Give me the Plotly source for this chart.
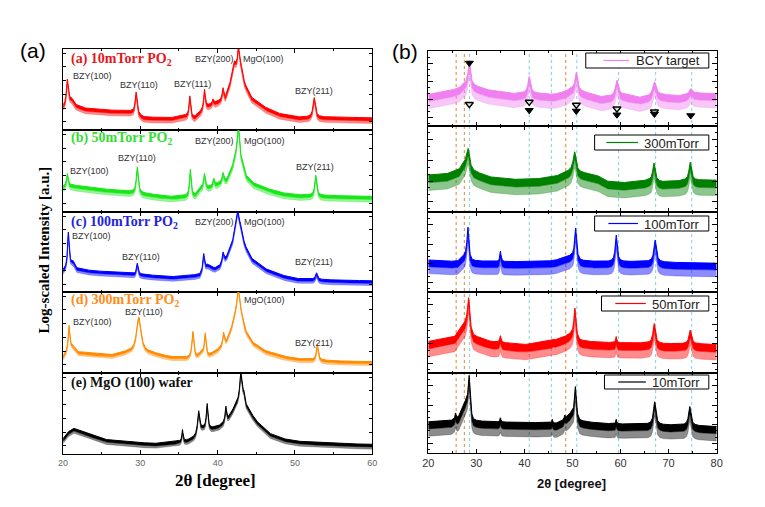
import numpy as np
import plotly.graph_objects as go

W, H = 765, 507
def PX(px): return px / W
def PY(py): return 1 - py / H

# ---------------- Panel (a) data (log-scaled intensity, fraction of each strip) ----------------
a_names = ["(a) 10mTorr PO<sub>2</sub>", "(b) 50mTorr PO<sub>2</sub>", "(c) 100mTorr PO<sub>2</sub>",
           "(d) 300mTorr PO<sub>2</sub>", "(e) MgO (100) wafer"]
a_colors = ["#ff0000", "#19e619", "#0000ff", "#ff8a00", "#000000"]
a_label_colors = ["#e8141c", "#33dd33", "#2222dd", "#ff8c1a", "#111111"]

a1_base_x = [20.0, 20.3, 21.1, 21.7, 22.8, 25.4, 28.8, 30.4, 33.8, 35.8, 37.0, 37.7, 38.7, 39.9, 40.4, 41.0, 41.6, 41.9, 42.3, 43.0, 43.5, 44.3, 46.0, 47.7, 50.2, 55.0, 60.0]
a1_base_y = [0.29, 0.30, 0.38, 0.31, 0.27, 0.25, 0.23, 0.16, 0.15, 0.18, 0.16, 0.22, 0.30, 0.35, 0.37, 0.40, 0.58, 0.72, 0.80, 0.80, 0.58, 0.41, 0.29, 0.21, 0.16, 0.16, 0.15]
a1_pk_x = [20.55, 29.45, 36.4, 38.3, 39.4, 40.7, 42.15, 42.7, 52.5]
a1_pk_top = [0.63, 0.47, 0.42, 0.50, 0.38, 0.52, 0.84, 1.05, 0.40]
a1_pk_w = [0.15, 0.15, 0.12, 0.12, 0.10, 0.12, 0.10, 0.12, 0.18]

a2_base_x = [20.0, 20.3, 21.1, 22.8, 25.4, 28.8, 30.4, 33.8, 36.0, 37.1, 37.7, 38.9, 40.0, 41.2, 41.9, 42.4, 43.1, 43.6, 44.5, 46.0, 48.0, 50.0, 55.0, 60.0]
a2_base_y = [0.31, 0.32, 0.33, 0.31, 0.28, 0.25, 0.23, 0.19, 0.20, 0.21, 0.30, 0.31, 0.35, 0.40, 0.55, 0.70, 0.62, 0.45, 0.36, 0.30, 0.24, 0.21, 0.20, 0.19]
a2_pk_x = [20.55, 29.6, 36.47, 38.3, 39.5, 40.7, 42.7, 52.7]
a2_pk_top = [0.47, 0.55, 0.52, 0.47, 0.41, 0.48, 1.05, 0.45]
a2_pk_w = [0.12, 0.15, 0.12, 0.12, 0.10, 0.12, 0.15, 0.15]

a3_base_x = [20.0, 20.4, 21.3, 21.7, 23.5, 27.4, 28.9, 30.4, 33.8, 37.7, 38.7, 39.6, 40.3, 41.2, 41.9, 42.3, 42.9, 43.5, 44.3, 46.0, 48.0, 50.0, 55.0, 60.0]
a3_base_y = [0.27, 0.30, 0.38, 0.30, 0.27, 0.24, 0.23, 0.22, 0.19, 0.22, 0.34, 0.30, 0.33, 0.45, 0.62, 0.82, 0.85, 0.60, 0.43, 0.30, 0.22, 0.17, 0.15, 0.14]
a3_pk_x = [20.68, 29.6, 38.2, 40.7, 42.6, 52.8]
a3_pk_top = [0.75, 0.36, 0.48, 0.50, 1.02, 0.24]
a3_pk_w = [0.12, 0.12, 0.12, 0.12, 0.13, 0.15]

a4_base_x = [20.0, 20.4, 21.1, 21.95, 24.0, 26.1, 28.3, 31.5, 33.85, 36.0, 37.3, 37.9, 38.8, 39.9, 40.4, 41.2, 41.8, 42.3, 43.1, 43.6, 44.5, 46.0, 48.0, 50.0, 55.0, 60.0]
a4_base_y = [0.20, 0.25, 0.33, 0.26, 0.24, 0.22, 0.26, 0.25, 0.20, 0.19, 0.20, 0.26, 0.22, 0.28, 0.32, 0.40, 0.55, 0.70, 0.70, 0.52, 0.38, 0.28, 0.22, 0.18, 0.15, 0.14]
a4_pk_x = [20.76, 29.8, 36.8, 38.4, 40.77, 42.67, 52.9]
a4_pk_top = [0.59, 0.69, 0.51, 0.49, 0.50, 1.05, 0.35]
a4_pk_w = [0.12, 0.35, 0.15, 0.12, 0.12, 0.20, 0.15]

a5_base_x = [20.0, 20.5, 21.3, 22.8, 25.4, 28.75, 31.7, 34.4, 35.0, 36.0, 36.8, 37.1, 38.0, 39.2, 40.2, 40.7, 41.4, 42.0, 42.4, 43.4, 43.6, 44.9, 46.6, 48.5, 50.0, 55.0, 60.0]
a5_base_y = [0.19, 0.26, 0.32, 0.27, 0.18, 0.15, 0.13, 0.15, 0.16, 0.17, 0.20, 0.22, 0.32, 0.32, 0.35, 0.38, 0.45, 0.55, 0.62, 0.75, 0.62, 0.42, 0.26, 0.19, 0.16, 0.13, 0.12]
a5_pk_x = [35.45, 37.54, 38.64, 41.06, 43.0]
a5_pk_top = [0.30, 0.53, 0.62, 0.59, 1.02]
a5_pk_w = [0.08, 0.15, 0.12, 0.10, 0.15]

a_noise = [0.07, 0.07, 0.06, 0.05, 0.06]

# peak labels (text, x pixel, y pixel)
a_peak_labels = [
    [("BZY(100)", 88, 76), ("BZY(110)", 135, 85), ("BZY(111)", 189, 84), ("BZY(200)", 212, 59), ("MgO(100)", 262, 59), ("BZY(211)", 313, 91)],
    [("BZY(100)", 85, 171), ("BZY(110)", 133, 158), ("BZY(200)", 212, 141), ("MgO(100)", 263, 141), ("BZY(211)", 314, 167)],
    [("BZY(100)", 87, 236), ("BZY(110)", 137, 257), ("BZY(200)", 212, 222), ("MgO(100)", 263, 222), ("BZY(211)", 313, 262)],
    [("BZY(100)", 88, 322), ("BZY(110)", 140, 312), ("MgO(100)", 263, 300), ("BZY(211)", 313, 343)],
    [],
]

# ---------------- Panel (b) data ----------------
b_names = ["BCY target", "300mTorr", "100mTorr", "50mTorr", "10mTorr"]
b_colors = ["#f080f0", "#008000", "#0000ff", "#ff0000", "#000000"]

b1_base_x = [20, 23.6, 26.35, 27.3, 28.0, 29.8, 32.5, 37.3, 40.0, 42.0, 46.0, 48.3, 49.8, 52.0, 56.0, 58.5, 60.5, 64.0, 66.2, 68.2, 72.0, 73.8, 75.6, 80.0]
b1_base_y = [0.42, 0.46, 0.50, 0.55, 0.56, 0.53, 0.48, 0.43, 0.44, 0.44, 0.42, 0.45, 0.50, 0.46, 0.39, 0.40, 0.42, 0.38, 0.40, 0.42, 0.40, 0.42, 0.44, 0.43]
b1_pk_x = [28.54, 41.0, 50.8, 59.25, 67.05, 74.6]
b1_pk_top = [0.86, 0.66, 0.72, 0.61, 0.59, 0.50]
b1_pk_w = [0.30, 0.30, 0.30, 0.35, 0.40, 0.35]

b2_base_x = [20, 23.6, 26.35, 27.3, 27.8, 29.4, 32.5, 37.0, 42.0, 46.8, 48.5, 49.8, 51.5, 55.0, 57.0, 60.0, 63.0, 66.0, 68.5, 72.0, 73.8, 75.5, 80.0]
b2_base_y = [0.43, 0.44, 0.49, 0.56, 0.58, 0.48, 0.41, 0.38, 0.38, 0.42, 0.46, 0.48, 0.46, 0.43, 0.36, 0.34, 0.35, 0.37, 0.35, 0.36, 0.37, 0.37, 0.37]
b2_pk_x = [28.3, 50.45, 66.96, 74.5]
b2_pk_top = [0.74, 0.70, 0.57, 0.58]
b2_pk_w = [0.30, 0.35, 0.30, 0.30]

b3_base_x = [20, 26.0, 27.3, 27.9, 29.0, 34.0, 40.0, 46.0, 48.5, 49.8, 51.5, 56.0, 62.0, 66.0, 70.0, 80.0]
b3_base_y = [0.40, 0.38, 0.44, 0.46, 0.39, 0.38, 0.38, 0.39, 0.43, 0.45, 0.39, 0.38, 0.38, 0.38, 0.37, 0.36]
b3_pk_x = [28.25, 35.0, 50.65, 59.1, 67.2]
b3_pk_top = [0.81, 0.51, 0.80, 0.71, 0.65]
b3_pk_w = [0.22, 0.15, 0.25, 0.25, 0.30]

b4_base_x = [20, 25.5, 27.3, 28.0, 29.3, 33.0, 40.0, 46.0, 48.5, 49.8, 51.5, 55.0, 62.0, 65.0, 69.5, 72.0, 76.0, 80.0]
b4_base_y = [0.39, 0.45, 0.59, 0.62, 0.46, 0.39, 0.35, 0.40, 0.45, 0.48, 0.40, 0.38, 0.37, 0.37, 0.36, 0.36, 0.36, 0.35]
b4_pk_x = [28.4, 35.0, 46.0, 50.5, 59.1, 67.0, 74.5]
b4_pk_top = [0.93, 0.46, 0.42, 0.80, 0.45, 0.61, 0.53]
b4_pk_w = [0.25, 0.15, 0.10, 0.25, 0.12, 0.30, 0.30]

b5_base_x = [20, 24.5, 26.3, 27.3, 27.9, 29.2, 33.0, 40.0, 45.0, 46.5, 47.8, 49.0, 49.8, 51.5, 56.0, 62.0, 65.0, 69.5, 72.5, 76.0, 80.0]
b5_base_y = [0.39, 0.40, 0.45, 0.60, 0.62, 0.40, 0.39, 0.38, 0.38, 0.37, 0.40, 0.46, 0.50, 0.40, 0.37, 0.36, 0.36, 0.35, 0.35, 0.34, 0.33]
b5_pk_x = [25.67, 28.5, 35.0, 45.8, 48.4, 50.6, 59.1, 67.1, 74.4]
b5_pk_top = [0.50, 0.97, 0.44, 0.42, 0.47, 0.83, 0.42, 0.64, 0.58]
b5_pk_w = [0.10, 0.25, 0.12, 0.10, 0.12, 0.22, 0.10, 0.30, 0.30]

b_noise = [0.19, 0.18, 0.17, 0.19, 0.18]

# triangle markers in BCY target strip
tri_open_x = [28.54, 41.0, 50.8, 59.25, 67.05]
tri_open_y = [0.29, 0.32, 0.28, 0.23, 0.19]
tri_fill_x = [28.54, 41.0, 50.8, 59.25, 67.05, 74.6]
tri_fill_y = [0.84, 0.21, 0.20, 0.15, 0.16, 0.14]

# reference lines
orange_lines = [25.8, 27.5, 48.6]
cyan_lines = [28.6, 41.0, 45.6, 50.9, 59.6, 67.3, 74.8]

a_ticks = [20, 30, 40, 50, 60]
b_ticks = [20, 30, 40, 50, 60, 70, 80]

# ---------------- layout geometry (pixels) ----------------
A_rows = [(49, 130), (130, 212), (212, 292), (292, 373), (373, 454)]
B_rows = [(51, 126), (126, 212), (212, 292), (292, 373), (373, 453)]
A_x = (58, 372)
B_x = (429, 722)

def spectrum(xg, bx, by, pxs, ptop, pw):
    base = np.interp(xg, bx, by)
    y = base.copy()
    for x0, t, w in zip(pxs, ptop, pw):
        h = t - np.interp(x0, bx, by)
        y += h / (1 + ((xg - x0) / w) ** 2)
    return y

a_sets = [(a1_base_x, a1_base_y, a1_pk_x, a1_pk_top, a1_pk_w),
          (a2_base_x, a2_base_y, a2_pk_x, a2_pk_top, a2_pk_w),
          (a3_base_x, a3_base_y, a3_pk_x, a3_pk_top, a3_pk_w),
          (a4_base_x, a4_base_y, a4_pk_x, a4_pk_top, a4_pk_w),
          (a5_base_x, a5_base_y, a5_pk_x, a5_pk_top, a5_pk_w)]
b_sets = [(b1_base_x, b1_base_y, b1_pk_x, b1_pk_top, b1_pk_w),
          (b2_base_x, b2_base_y, b2_pk_x, b2_pk_top, b2_pk_w),
          (b3_base_x, b3_base_y, b3_pk_x, b3_pk_top, b3_pk_w),
          (b4_base_x, b4_base_y, b4_pk_x, b4_pk_top, b4_pk_w),
          (b5_base_x, b5_base_y, b5_pk_x, b5_pk_top, b5_pk_w)]

fig = go.Figure()
xa = np.linspace(20, 60, 1601)
xb = np.linspace(20, 80, 1201)

def ax_id(i):
    return ("x" if i == 1 else f"x{i}"), ("y" if i == 1 else f"y{i}")

def hex_rgba(h, a):
    h = h.lstrip("#")
    r, g, b = int(h[0:2], 16), int(h[2:4], 16), int(h[4:6], 16)
    return f"rgba({r},{g},{b},{a})"

def add_band(xg, up, noise, color, i, solid_frac):
    xr, yr = ax_id(i)
    lo2 = up - noise
    lo1 = up - noise * solid_frac
    fig.add_trace(go.Scatter(x=xg, y=lo2, mode="lines", line=dict(color=hex_rgba(color, 0.5), width=0.5),
                             xaxis=xr, yaxis=yr, showlegend=False, hoverinfo="skip"))
    fig.add_trace(go.Scatter(x=xg, y=lo1, mode="lines", line=dict(color=color, width=0.5),
                             fill="tonexty", fillcolor=hex_rgba(color, 0.45),
                             xaxis=xr, yaxis=yr, showlegend=False, hoverinfo="skip"))
    fig.add_trace(go.Scatter(x=xg, y=up, mode="lines", line=dict(color=color, width=1),
                             fill="tonexty", fillcolor=color,
                             xaxis=xr, yaxis=yr, showlegend=False, hoverinfo="skip"))

for k, s in enumerate(a_sets):
    add_band(xa, spectrum(xa, *s), a_noise[k], a_colors[k], k + 1, 0.55)

for k, s in enumerate(b_sets):
    add_band(xb, spectrum(xb, *s), b_noise[k], b_colors[k], k + 6, 0.5)

fig.add_trace(go.Scatter(x=tri_open_x, y=tri_open_y, mode="markers", xaxis="x6", yaxis="y6",
                         marker=dict(symbol="triangle-down", size=7, color="#dddddd",
                                     line=dict(color="black", width=1.3)),
                         showlegend=False, hoverinfo="skip"))
fig.add_trace(go.Scatter(x=tri_fill_x, y=tri_fill_y, mode="markers", xaxis="x6", yaxis="y6",
                         marker=dict(symbol="triangle-down", size=7, color="black",
                                     line=dict(color="black", width=1)),
                         showlegend=False, hoverinfo="skip"))

layout = dict(width=W, height=H, margin=dict(l=0, r=0, t=0, b=0),
              paper_bgcolor="white", plot_bgcolor="rgba(0,0,0,0)", showlegend=False)

axis_common = dict(showline=True, linecolor="black", linewidth=1, mirror="ticks", ticks="inside",
                   showgrid=False, zeroline=False, tickcolor="black")

for k in range(5):
    i = k + 1
    top, bot = A_rows[k]
    xkey = "xaxis" if i == 1 else f"xaxis{i}"
    ykey = "yaxis" if i == 1 else f"yaxis{i}"
    layout[xkey] = dict(axis_common, domain=[PX(A_x[0]), PX(A_x[1])], anchor=ax_id(i)[1],
                        range=[20, 60], tickvals=a_ticks, ticklen=4,
                        minor=dict(tickvals=[25, 35, 45, 55], ticklen=2, ticks="inside", tickcolor="black"),
                        showticklabels=(k == 4), tickfont=dict(family="Liberation Sans", size=9, color="#666666"))
    layout[ykey] = dict(axis_common, domain=[PY(bot), PY(top)], anchor=ax_id(i)[0],
                        range=[0, 1], tickvals=[0.1, 0.27, 0.44, 0.61, 0.78, 0.95], ticklen=3,
                        showticklabels=False)

for k in range(5):
    i = k + 6
    top, bot = B_rows[k]
    xkey = f"xaxis{i}"
    ykey = f"yaxis{i}"
    layout[xkey] = dict(axis_common, domain=[PX(B_x[0]), PX(B_x[1])], anchor=ax_id(i)[1],
                        range=[20, 80], tickvals=b_ticks, ticklen=4,
                        minor=dict(dtick=5, ticklen=2, ticks="inside", tickcolor="black"),
                        showticklabels=(k == 4), tickfont=dict(family="Liberation Sans", size=11, color="#333333"))
    layout[ykey] = dict(axis_common, domain=[PY(bot), PY(top)], anchor=ax_id(i)[0],
                        range=[0, 1], tickvals=[0.12, 0.36, 0.6, 0.84], ticklen=5,
                        minor=dict(tickvals=[0.04, 0.2, 0.28, 0.44, 0.52, 0.68, 0.76, 0.92], ticklen=2,
                                   ticks="inside", tickcolor="black"),
                        showticklabels=False)

fig.update_layout(**layout)

shapes = []
for xv in orange_lines:
    shapes.append(dict(type="line", xref="x10", yref="paper", x0=xv, x1=xv, y0=PY(453), y1=PY(51),
                       line=dict(color="#e8822a", width=1, dash="dot"), layer="below"))
for xv in cyan_lines:
    shapes.append(dict(type="line", xref="x10", yref="paper", x0=xv, x1=xv, y0=PY(453), y1=PY(51),
                       line=dict(color="#7fd0e0", width=1, dash="dot"), layer="below"))

# legend boxes in panel (b): (box left, top, bottom, line x0, line x1)
b_leg = [(589, 53, 68, 607, 633), (598, 135, 150, 610, 642), (598, 216, 231, 612, 642),
         (605, 296, 311, 619, 650), (608, 375, 389, 622, 650)]
annotations = []
for k, (bl, bt, bb, l0, l1) in enumerate(b_leg):
    shapes.append(dict(type="rect", xref="paper", yref="paper", x0=PX(bl), x1=PX(714), y0=PY(bb), y1=PY(bt),
                       line=dict(color="black", width=1), fillcolor="white", layer="above"))
    ym = (bt + bb) / 2
    shapes.append(dict(type="line", xref="paper", yref="paper", x0=PX(l0), x1=PX(l1), y0=PY(ym), y1=PY(ym),
                       line=dict(color=b_colors[k], width=1.2), layer="above"))
    annotations.append(dict(text=b_names[k], xref="paper", yref="paper", x=PX(707), y=PY(ym + 0.5),
                            xanchor="right", yanchor="middle", showarrow=False,
                            font=dict(family="Liberation Sans", size=13, color="#222222")))

# panel (a) strip titles
a_title_y = [60, 138, 222, 300, 383]
for k in range(5):
    annotations.append(dict(text=a_names[k], xref="paper", yref="paper", x=PX(64), y=PY(a_title_y[k]),
                            xanchor="left", yanchor="middle", showarrow=False,
                            font=dict(family="Liberation Serif", size=14, color=a_label_colors[k], weight="bold")))
for k in range(5):
    for (t, px_, py_) in a_peak_labels[k]:
        annotations.append(dict(text=t, xref="paper", yref="paper", x=PX(px_), y=PY(py_),
                                xanchor="center", yanchor="middle", showarrow=False,
                                font=dict(family="Liberation Sans", size=9, color="#333333")))

annotations += [
    dict(text="(a)", xref="paper", yref="paper", x=PX(27), y=PY(51), showarrow=False,
         xanchor="center", yanchor="middle",
         font=dict(family="Liberation Sans", size=21, color="black")),
    dict(text="(b)", xref="paper", yref="paper", x=PX(405), y=PY(52), showarrow=False,
         xanchor="center", yanchor="middle",
         font=dict(family="Liberation Sans", size=21, color="black")),
    dict(text="2θ [degree]", xref="paper", yref="paper", x=PX(213), y=PY(480), showarrow=False,
         xanchor="center", yanchor="middle",
         font=dict(family="Liberation Serif", size=17, color="black", weight="bold")),
    dict(text="2θ [degree]", xref="paper", yref="paper", x=PX(575), y=PY(483), showarrow=False,
         xanchor="center", yanchor="middle",
         font=dict(family="Liberation Sans", size=13, color="#111111", weight="bold")),
    dict(text="Log-scaled Intensity [a.u.]", xref="paper", yref="paper", x=PX(39), y=PY(250),
         textangle=-90, showarrow=False, xanchor="center", yanchor="middle",
         font=dict(family="Liberation Serif", size=15, color="black", weight="bold")),
]

fig.update_layout(shapes=shapes, annotations=annotations)
fig.write_html("out.html")
